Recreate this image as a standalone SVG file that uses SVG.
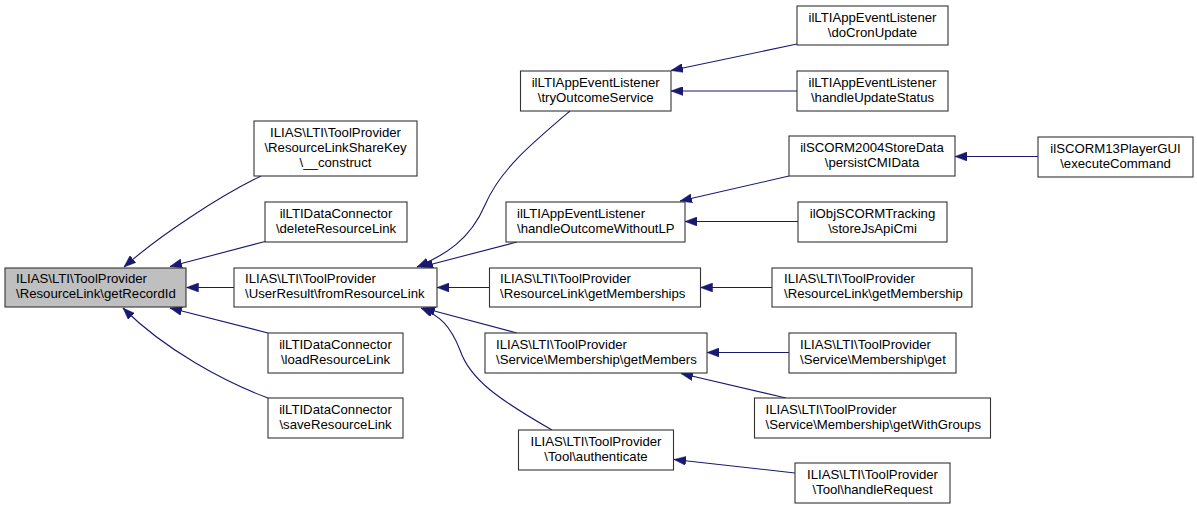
<svg xmlns="http://www.w3.org/2000/svg" width="1197" height="509" viewBox="0 0 1197 509">
<style>
.box{fill:#ffffff;stroke:#333333;stroke-width:1.1}
.hl{fill:#bfbfbf}
text{font-family:"Liberation Sans",Arial,Helvetica,sans-serif;font-size:13.2px;fill:#000000}
.c{text-anchor:middle}
.l{text-anchor:start}
.edge{fill:none;stroke:#191970;stroke-width:1.1}
</style>
<defs>
<marker id="arr" viewBox="0 0 12 9" refX="12" refY="4.5" markerWidth="12" markerHeight="9" markerUnits="userSpaceOnUse" orient="auto">
<path d="M0,0 L12,4.5 L0,9 z" fill="#191970" stroke="#191970" stroke-width="0.5"/>
</marker>
</defs>
<rect width="1197" height="509" fill="#ffffff"/>
<g id="connectors">
<path class="edge" marker-end="url(#arr)" d="M261,176 C220,196 160,235 124,267"/>
<path class="edge" marker-end="url(#arr)" d="M265,241.5 L170,266.5"/>
<path class="edge" marker-end="url(#arr)" d="M234,287.5 L186.5,287.5"/>
<path class="edge" marker-end="url(#arr)" d="M268,333 L170,308"/>
<path class="edge" marker-end="url(#arr)" d="M268,398 C225,382 165,350 123,308"/>
<path class="edge" marker-end="url(#arr)" d="M570,111 C530,145 500,170 485,205 C470,240 445,255 417,267"/>
<path class="edge" marker-end="url(#arr)" d="M517,242 L421,267"/>
<path class="edge" marker-end="url(#arr)" d="M489.5,287.5 L437,287.5"/>
<path class="edge" marker-end="url(#arr)" d="M517,333 L423,308"/>
<path class="edge" marker-end="url(#arr)" d="M552,430 C500,400 470,380 460,350 C450,325 440,316 421,308"/>
<path class="edge" marker-end="url(#arr)" d="M797,44 L671,70.5"/>
<path class="edge" marker-end="url(#arr)" d="M797,91 L671,91"/>
<path class="edge" marker-end="url(#arr)" d="M789,176 L680,201"/>
<path class="edge" marker-end="url(#arr)" d="M798,221.5 L685,221.5"/>
<path class="edge" marker-end="url(#arr)" d="M1038,156.5 L955,156.5"/>
<path class="edge" marker-end="url(#arr)" d="M772,287.5 L700.5,287.5"/>
<path class="edge" marker-end="url(#arr)" d="M789,352.5 L707,352.5"/>
<path class="edge" marker-end="url(#arr)" d="M786,398 L681,373.5"/>
<path class="edge" marker-end="url(#arr)" d="M795,473 L674,459.5"/>
</g>
<g id="n_getRecordId">
<rect class="box hl" x="5" y="268" width="181" height="39"/>
<text class="l" x="16" y="283">ILIAS\LTI\ToolProvider</text>
<text class="l" x="16" y="298">\ResourceLink\getRecordId</text>
</g>
<g id="n_shareKeyConstruct">
<rect class="box" x="254" y="121" width="163" height="55"/>
<text class="c" x="335.5" y="137">ILIAS\LTI\ToolProvider</text>
<text class="c" x="335.5" y="152">\ResourceLinkShareKey</text>
<text class="c" x="335.5" y="167">\__construct</text>
</g>
<g id="n_deleteResourceLink">
<rect class="box" x="265" y="202" width="142" height="40"/>
<text class="c" x="336" y="217.5">ilLTIDataConnector</text>
<text class="c" x="336" y="232.5">\deleteResourceLink</text>
</g>
<g id="n_fromResourceLink">
<rect class="box" x="234" y="268" width="203" height="39"/>
<text class="l" x="245" y="283">ILIAS\LTI\ToolProvider</text>
<text class="l" x="245" y="298">\UserResult\fromResourceLink</text>
</g>
<g id="n_loadResourceLink">
<rect class="box" x="268" y="333" width="135" height="40"/>
<text class="c" x="335.5" y="348.5">ilLTIDataConnector</text>
<text class="c" x="335.5" y="363.5">\loadResourceLink</text>
</g>
<g id="n_saveResourceLink">
<rect class="box" x="268" y="398" width="135" height="40"/>
<text class="c" x="335.5" y="413.5">ilLTIDataConnector</text>
<text class="c" x="335.5" y="428.5">\saveResourceLink</text>
</g>
<g id="n_tryOutcomeService">
<rect class="box" x="520.5" y="71" width="150.5" height="40"/>
<text class="c" x="595.7" y="86.5">ilLTIAppEventListener</text>
<text class="c" x="595.7" y="101.5">\tryOutcomeService</text>
</g>
<g id="n_handleOutcomeWithoutLP">
<rect class="box" x="506" y="202" width="179" height="40"/>
<text class="l" x="517" y="217.5">ilLTIAppEventListener</text>
<text class="l" x="517" y="232.5">\handleOutcomeWithoutLP</text>
</g>
<g id="n_getMemberships">
<rect class="box" x="489.5" y="268" width="211" height="39"/>
<text class="l" x="500" y="283">ILIAS\LTI\ToolProvider</text>
<text class="l" x="500" y="298">\ResourceLink\getMemberships</text>
</g>
<g id="n_getMembers">
<rect class="box" x="485" y="333" width="222" height="40"/>
<text class="l" x="496" y="348.5">ILIAS\LTI\ToolProvider</text>
<text class="l" x="496" y="363.5">\Service\Membership\getMembers</text>
</g>
<g id="n_authenticate">
<rect class="box" x="518.5" y="430" width="155" height="40"/>
<text class="c" x="596" y="445.5">ILIAS\LTI\ToolProvider</text>
<text class="c" x="596" y="460.5">\Tool\authenticate</text>
</g>
<g id="n_doCronUpdate">
<rect class="box" x="797" y="6" width="151" height="39"/>
<text class="c" x="872.5" y="21.5">ilLTIAppEventListener</text>
<text class="c" x="872.5" y="36.5">\doCronUpdate</text>
</g>
<g id="n_handleUpdateStatus">
<rect class="box" x="797" y="71" width="151" height="40"/>
<text class="c" x="872.5" y="86.5">ilLTIAppEventListener</text>
<text class="c" x="872.5" y="101.5">\handleUpdateStatus</text>
</g>
<g id="n_persistCMIData">
<rect class="box" x="789" y="136" width="166" height="40"/>
<text class="c" x="872" y="151.5">ilSCORM2004StoreData</text>
<text class="c" x="872" y="166.5">\persistCMIData</text>
</g>
<g id="n_storeJsApiCmi">
<rect class="box" x="798" y="202" width="149" height="40"/>
<text class="c" x="872.5" y="217.5">ilObjSCORMTracking</text>
<text class="c" x="872.5" y="232.5">\storeJsApiCmi</text>
</g>
<g id="n_getMembership">
<rect class="box" x="772" y="268" width="200" height="39"/>
<text class="l" x="784" y="283">ILIAS\LTI\ToolProvider</text>
<text class="l" x="784" y="298">\ResourceLink\getMembership</text>
</g>
<g id="n_membershipGet">
<rect class="box" x="789" y="333" width="167" height="40"/>
<text class="l" x="800" y="348.5">ILIAS\LTI\ToolProvider</text>
<text class="l" x="800" y="363.5">\Service\Membership\get</text>
</g>
<g id="n_getWithGroups">
<rect class="box" x="754.5" y="398" width="236" height="40"/>
<text class="l" x="765.5" y="413.5">ILIAS\LTI\ToolProvider</text>
<text class="l" x="765.5" y="428.5">\Service\Membership\getWithGroups</text>
</g>
<g id="n_handleRequest">
<rect class="box" x="795" y="463" width="155" height="40"/>
<text class="c" x="872.5" y="478.5">ILIAS\LTI\ToolProvider</text>
<text class="c" x="872.5" y="493.5">\Tool\handleRequest</text>
</g>
<g id="n_executeCommand">
<rect class="box" x="1038" y="137" width="155" height="40"/>
<text class="c" x="1115.5" y="152.5">ilSCORM13PlayerGUI</text>
<text class="c" x="1115.5" y="167.5">\executeCommand</text>
</g>
</svg>
